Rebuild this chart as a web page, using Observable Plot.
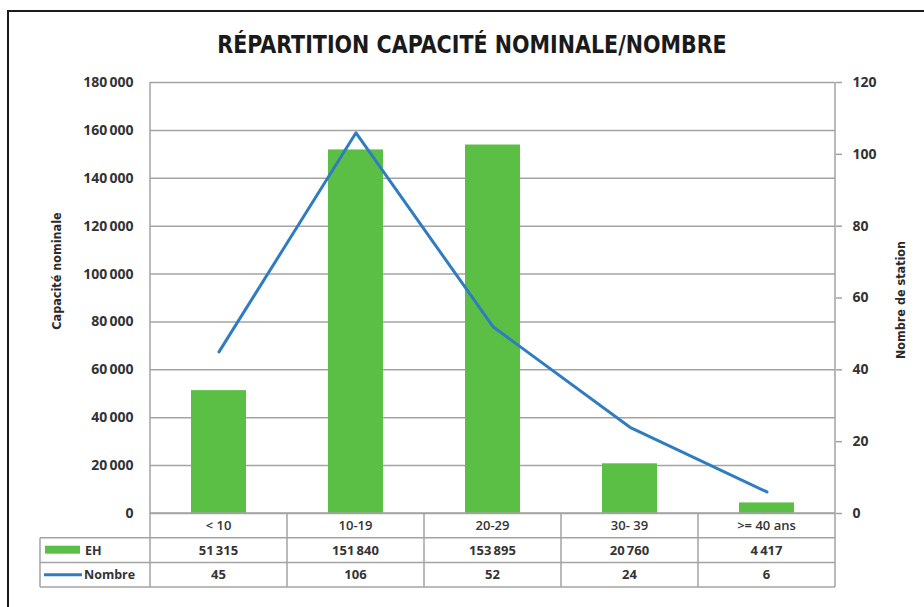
<!DOCTYPE html>
<html><head><meta charset="utf-8">
<script src="https://cdn.jsdelivr.net/npm/d3@7"></script>
<script src="https://cdn.jsdelivr.net/npm/@observablehq/plot@0.6"></script>
<style>
body{margin:0;background:#fff;}
#wrap{position:relative;width:924px;height:607px;overflow:hidden;font-family:"Open Sans",sans-serif;background:#fff;}
#frame{position:absolute;left:7px;top:10px;width:1000px;height:1000px;border-left:2px solid #1a1a1a;border-top:2px solid #1a1a1a;}
#title{position:absolute;left:472px;top:31px;white-space:nowrap;transform:translateX(-50%) scaleX(0.955);font-family:"DejaVu Sans Condensed",sans-serif;font-weight:bold;font-size:24px;color:#1a1a1a;}
.ylab{position:absolute;font-family:"DejaVu Sans Condensed",sans-serif;font-weight:bold;font-size:12.5px;color:#2a2a2a;white-space:nowrap;transform:translate(-50%,-50%) rotate(-90deg);}
#chart{position:absolute;left:0;top:0;}
</style></head>
<body><div id="wrap"><div id="frame"></div><div id="title">RÉPARTITION CAPACITÉ NOMINALE/NOMBRE</div>
<div class="ylab" style="left:56px;top:271px;">Capacité nominale</div>
<div class="ylab" style="left:900px;top:300px;">Nombre de station</div>
<div id="chart"></div></div>
<script>
const categories = ["< 10", "10-19", "20-29", "30- 39", ">= 40 ans"];
const ehValues = [51315, 151840, 153895, 20760, 4417];
const nombreValues = [45, 106, 52, 24, 6];
const leftTicks = [0, 20000, 40000, 60000, 80000, 100000, 120000, 140000, 160000, 180000];
const rightTicks = [0, 20, 40, 60, 80, 100, 120];
const seriesNames = ["EH", "Nombre"];

const RATIO = 180000 / 120;
const data = categories.map((c, i) => ({cat: c, eh: ehValues[i], n: nombreValues[i]}));
const fmt = d => d3.format(",")(d).replace(/,/g, "\u2009");
const GREEN = "#5cbf45", BLUE = "#2f7dc0", GRID = "#a3a3a3", TXT = "#333";

const chart = Plot.plot({
  width: 924, height: 607,
  marginTop: 82, marginBottom: 94, marginLeft: 150, marginRight: 89,
  style: {fontFamily: "Open Sans", fontSize: "14px", background: "transparent", overflow: "visible"},
  x: {domain: categories, paddingInner: 0.6, paddingOuter: 0.3, axis: null},
  y: {domain: [0, 180000], axis: null},
  marks: [
    Plot.gridY(leftTicks, {stroke: GRID, strokeOpacity: 1, strokeWidth: 1.5}),
    Plot.barY(data, {x: "cat", y: "eh", fill: GREEN}),
    Plot.line(data, {x: "cat", y: d => d.n * RATIO, stroke: BLUE, strokeWidth: 3}),
    Plot.axisY(leftTicks, {anchor: "left", tickSize: 0, tickPadding: 17, tickFormat: fmt, fontSize: 14, fontWeight: "bold", fill: TXT, label: null}),
    Plot.axisY(rightTicks.map(d => d * RATIO), {anchor: "right", tickSize: 6, tickPadding: 11, tickFormat: d => d / RATIO, fontSize: 14, stroke: GRID, strokeWidth: 1.5, fontWeight: "bold", fill: TXT, label: null})
  ]
});
document.getElementById("chart").appendChild(chart);

// data table below the plot, positioned from the scales
const xs = chart.scale("x"), ys = chart.scale("y");
const step = xs.step;
const svg = d3.select(chart);
const g = svg.append("g");
const y0 = ys.apply(0), yTop = ys.apply(180000);
const rowH = 24.7;
const rows = [y0, y0 + rowH, y0 + 2 * rowH, y0 + 3 * rowH];
const bounds = categories.map(c => xs.apply(c) + xs.bandwidth / 2 - step / 2);
const xLeft = bounds[0], xRight = bounds[bounds.length - 1] + step;
const legendLeft = 40;
bounds.concat([xRight]).forEach((bx, i, arr) => {
  const edge = i === 0 || i === arr.length - 1;
  g.append("line").attr("x1", bx).attr("x2", bx).attr("y1", edge ? yTop : y0).attr("y2", rows[3])
    .attr("stroke", GRID).attr("stroke-width", 1.5);
});
g.append("line").attr("x1", legendLeft).attr("x2", legendLeft).attr("y1", rows[1]).attr("y2", rows[3]).attr("stroke", GRID).attr("stroke-width", 1.5);
g.append("line").attr("x1", xLeft).attr("x2", xRight).attr("y1", rows[0]).attr("y2", rows[0]).attr("stroke", GRID).attr("stroke-width", 1.5);
[1, 2, 3].forEach(k => g.append("line").attr("x1", legendLeft).attr("x2", xRight).attr("y1", rows[k]).attr("y2", rows[k]).attr("stroke", GRID).attr("stroke-width", 1.5));
const rowTexts = [categories, ehValues.map(fmt), nombreValues.map(String)];
rowTexts.forEach((arr, r) => {
  arr.forEach((t, i) => {
    g.append("text").attr("x", bounds[i] + step / 2).attr("y", rows[r] + rowH / 2).attr("dy", "0.36em")
      .attr("text-anchor", "middle").attr("fill", TXT).attr("font-weight", r === 0 ? 600 : 700)
      .attr("font-size", 13).attr("font-family", "Open Sans").text(t);
  });
});
g.append("rect").attr("x", 45).attr("y", rows[1] + 8).attr("width", 35).attr("height", 8).attr("fill", GREEN);
g.append("text").attr("x", 85).attr("y", rows[1] + rowH / 2).attr("dy", "0.36em").attr("text-anchor", "start").attr("fill", TXT).attr("font-weight", 700).attr("font-size", 12.5).attr("font-family", "Open Sans").text(seriesNames[0]);
g.append("line").attr("x1", 44).attr("x2", 82).attr("y1", rows[2] + rowH / 2).attr("y2", rows[2] + rowH / 2).attr("stroke", BLUE).attr("stroke-width", 3);
g.append("text").attr("x", 84).attr("y", rows[2] + rowH / 2).attr("dy", "0.36em").attr("text-anchor", "start").attr("fill", TXT).attr("font-weight", 700).attr("font-size", 12.5).attr("font-family", "Open Sans").text(seriesNames[1]);
</script></body></html>
